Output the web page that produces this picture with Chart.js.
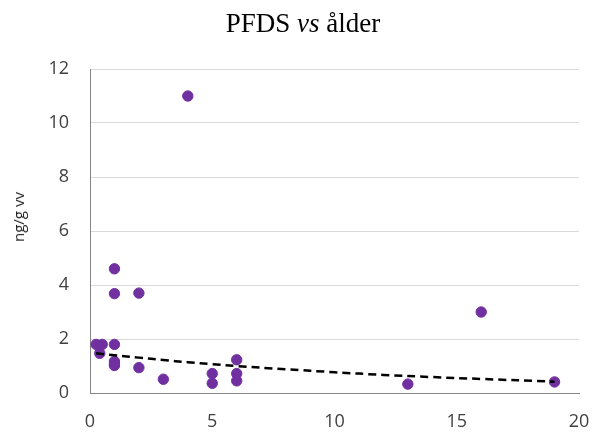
<!DOCTYPE html>
<html>
<head>
<meta charset="utf-8">
<script src="https://cdn.jsdelivr.net/npm/chart.js@4/dist/chart.umd.min.js"></script>
<style>
  html, body { margin: 0; padding: 0; background: #ffffff; }
  #wrap { position: relative; width: 595px; height: 435px; }
  #chart { position: absolute; left: 0; top: 0; }
  #title {
    position: absolute; left: 0; top: 8px; width: 606px; text-align: center;
    font-family: "Liberation Serif", "Times New Roman", serif; font-size: 27px; color: #000;
  }
  #ytitle {
    position: absolute; left: 18px; top: 217px;
    transform: translate(-50%, -50%) rotate(-90deg);
    font-family: "Open Sans", sans-serif; font-size: 15px; color: #262626; white-space: nowrap;
  }
</style>
</head>
<body>
<div id="wrap">
  <canvas id="chart" width="595" height="435"></canvas>
  <div id="title">PFDS <i>vs</i> ålder</div>
  <div id="ytitle">ng/g vv</div>
</div>
<script>
// Age (years) and PFDS concentration (ng/g vv) for each sample
const ages   = [0.25, 0.5, 0.4, 1, 1, 1, 1, 1, 1, 2, 2, 3, 4, 5, 5, 6, 6, 6, 13, 16, 19];
const pfds   = [1.8, 1.8, 1.47, 4.6, 3.68, 1.8, 1.17, 1.08, 1.02, 3.7, 0.94, 0.51, 11.0, 0.72, 0.36, 1.23, 0.72, 0.45, 0.33, 3.0, 0.41];

// Exponential trend line, sampled along the age axis
const trendAges = [0.25, 1, 2, 3, 4, 5, 6, 8, 10, 12, 14, 16, 19];
const trendVals = [1.47, 1.40, 1.31, 1.22, 1.14, 1.07, 1.00, 0.88, 0.77, 0.67, 0.59, 0.52, 0.42];

// Axis ticks
const xTicks = [0, 5, 10, 15, 20];
const yTicks = [0, 2, 4, 6, 8, 10, 12];

const tickFont = { family: "Open Sans", size: 18 };
const tickColor = '#404040';

new Chart(document.getElementById('chart'), {
  type: 'scatter',
  data: {
    datasets: [
      {
        label: 'Trend',
        data: trendAges.map((x, i) => ({ x, y: trendVals[i] })),
        showLine: true,
        borderColor: '#000000',
        borderWidth: 2.5,
        borderDash: [8, 5],
        pointRadius: 0,
        tension: 0.4,
        fill: false,
        order: 0
      },
      {
        label: 'PFDS',
        data: ages.map((x, i) => ({ x, y: pfds[i] })),
        backgroundColor: '#7030A0',
        borderColor: '#7030A0',
        borderWidth: 1,
        pointRadius: 5.2,
        order: 1
      }
    ]
  },
  options: {
    responsive: false,
    devicePixelRatio: 1,
    animation: false,
    layout: { padding: { top: 69, right: 16, bottom: 0, left: 0 } },
    plugins: { legend: { display: false }, tooltip: { enabled: false }, title: { display: false } },
    scales: {
      x: {
        type: 'linear', min: xTicks[0], max: xTicks[xTicks.length - 1],
        afterBuildTicks: s => { s.ticks = xTicks.map(v => ({ value: v })); },
        ticks: { font: tickFont, color: tickColor, padding: 18 },
        grid: { display: false, drawTicks: false },
        border: { display: true, color: '#868686', width: 1 },
        afterFit: s => { s.height = 42; s.paddingLeft = 0; s.paddingRight = 0; }
      },
      y: {
        type: 'linear', min: yTicks[0], max: yTicks[yTicks.length - 1],
        afterBuildTicks: s => { s.ticks = yTicks.map(v => ({ value: v })); },
        ticks: { font: tickFont, color: tickColor, padding: 21 },
        grid: { color: '#d9d9d9', drawTicks: false, lineWidth: 1 },
        border: { display: true, color: '#868686', width: 1 },
        afterFit: s => { s.width = 90; s.paddingTop = 0; s.paddingBottom = 0; }
      }
    }
  }
});
</script>
</body>
</html>
